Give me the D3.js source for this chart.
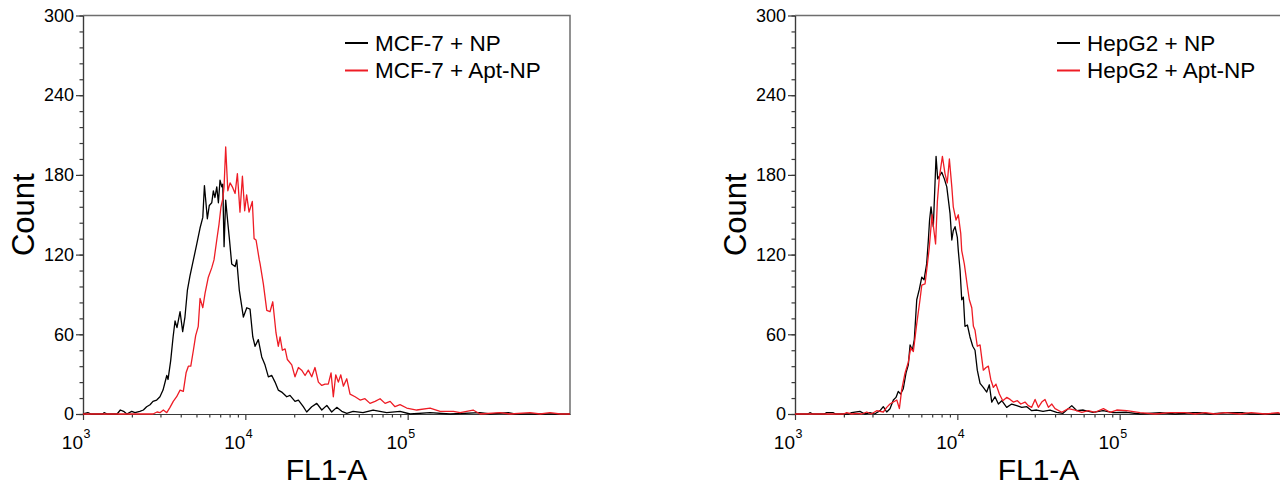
<!DOCTYPE html>
<html>
<head>
<meta charset="utf-8">
<title>FL1-A histograms</title>
<script src="https://cdn.jsdelivr.net/npm/d3@7"></script>
<style>
  body { margin: 0; background: #fff; }
  svg { display: block; font-family: "Liberation Sans", Arial, sans-serif; }
  .tick text { font-size: 18px; fill: #000; }
</style>
</head>
<body>
<script>
// each point: [log10(FL1-A), count]
const mcfNP = [[3.00,0],[3.03,1],[3.05,0],[3.12,0],[3.13,1],[3.15,0],[3.21,0],[3.23,3],[3.25,2],[3.27,0],
  [3.30,2],[3.32,1],[3.35,2],[3.372,3],[3.392,5.5],[3.413,7],[3.431,9.5],[3.454,10.5],[3.474,13],[3.493,18],
  [3.516,29],[3.524,26],[3.540,40],[3.555,58],[3.567,70],[3.579,65],[3.598,77],[3.614,62],[3.628,73],[3.643,93],
  [3.659,104],[3.680,116],[3.701,128],[3.721,140],[3.738,148],[3.748,172],[3.766,147],[3.778,157],[3.793,159],
  [3.803,168],[3.813,163],[3.824,171],[3.834,159],[3.844,176],[3.855,171],[3.861,173],[3.869,126],[3.879,161],
  [3.892,144],[3.901,133],[3.916,113],[3.937,111],[3.947,116],[3.963,93],[3.988,73],[4.009,80],[4.029,79],
  [4.046,58],[4.060,51],[4.080,56],[4.101,43],[4.121,37],[4.142,28],[4.163,29],[4.183,24],[4.203,18],[4.224,16.5],
  [4.255,13],[4.275,14],[4.306,9.5],[4.327,10.5],[4.357,5.5],[4.378,1.5],[4.409,5.5],[4.440,8],[4.471,3],
  [4.502,6.5],[4.532,1.5],[4.563,5],[4.594,2],[4.625,0.5],[4.664,2],[4.725,1],[4.787,3],[4.871,1],[4.953,2],
  [5.015,0],[5.138,1],[5.261,0],[5.446,1],[5.508,0],[5.62,1],[5.66,0],[6.00,0]];

const mcfApt = [[3.00,0],[3.431,0],[3.456,1.5],[3.474,1],[3.495,3],[3.516,1],[3.536,5],[3.556,9.5],[3.577,13],
  [3.598,18],[3.618,17],[3.635,31],[3.649,36],[3.664,36],[3.680,48],[3.694,59],[3.710,66],[3.721,87],[3.738,80],
  [3.752,91],[3.772,103],[3.793,110],[3.807,116],[3.824,131],[3.838,143],[3.850,156],[3.861,162],[3.869,171],
  [3.879,201],[3.892,168],[3.906,174],[3.920,171],[3.937,166],[3.951,181],[3.967,152],[3.982,179],[3.996,153],
  [4.008,165],[4.023,152],[4.043,160],[4.054,132],[4.066,131],[4.086,116],[4.091,113],[4.111,98],[4.132,78],
  [4.152,77],[4.169,84.5],[4.189,61],[4.203,51],[4.214,58],[4.228,48],[4.245,49],[4.259,41],[4.286,37],[4.306,28],
  [4.327,35],[4.347,33],[4.368,29],[4.388,33],[4.409,28],[4.429,35],[4.450,24],[4.471,21.5],[4.491,22.5],
  [4.511,22.5],[4.528,31],[4.542,13],[4.557,29.5],[4.573,24],[4.588,29.5],[4.604,21],[4.625,26.5],[4.645,15],
  [4.676,13],[4.707,10.5],[4.737,11.5],[4.768,8],[4.799,9.5],[4.830,11.5],[4.861,8],[4.892,9.5],[4.922,5.5],
  [4.953,7],[4.994,4.5],[5.056,3],[5.138,4.5],[5.200,2],[5.282,2],[5.323,1],[5.403,3],[5.446,0],[5.569,1],
  [5.631,0],[5.754,1],[5.816,0],[5.877,1],[5.939,0],[6.00,0]];

const hepNP = [[3.00,0],[3.08,0],[3.092,1],[3.11,0],[3.18,0],[3.195,1],[3.234,1],[3.25,0],[3.33,0],[3.349,1],
  [3.400,2],[3.43,0],[3.462,1],[3.49,0],[3.524,2.5],[3.544,5.5],[3.565,1.5],[3.585,4],[3.606,10.5],[3.622,12.5],
  [3.636,17],[3.651,15],[3.667,19],[3.684,31],[3.698,37],[3.709,52],[3.723,48],[3.735,56],[3.750,86],[3.766,94],
  [3.781,103],[3.795,101],[3.811,113],[3.821,130],[3.829,146],[3.838,156],[3.852,141],[3.869,194],[3.879,177],
  [3.904,182],[3.920,177],[3.935,171],[3.945,161],[3.955,151],[3.966,131],[3.975,138],[3.986,141],[4.000,133],
  [4.006,123],[4.017,108],[4.027,86],[4.037,88],[4.047,66],[4.062,67],[4.078,58],[4.095,51],[4.109,48],[4.123,33],
  [4.140,23],[4.160,20],[4.181,16.5],[4.197,22],[4.212,9],[4.232,13],[4.253,7.5],[4.274,10],[4.304,5],[4.335,7.5],
  [4.366,6.3],[4.397,5],[4.428,5.5],[4.458,2.5],[4.489,3],[4.528,2],[4.571,3],[4.612,1.3],[4.651,0.5],[4.705,6.3],
  [4.736,2.5],[4.776,3],[4.836,1.3],[4.898,2.5],[4.959,1],[5.044,1.3],[5.126,0],[5.249,1],[5.342,0],[5.452,1],
  [5.495,1],[5.557,0],[5.662,1],[5.699,1],[5.754,1],[5.804,0],[6.00,0]];

const hepApt = [[3.00,0],[3.30,0],[3.318,1],[3.35,0],[3.380,0.5],[3.41,0],[3.442,1.5],[3.47,0],[3.503,2.5],
  [3.544,1.5],[3.565,5],[3.585,7.5],[3.606,9],[3.627,10.5],[3.643,4],[3.657,18],[3.678,31],[3.698,39],[3.713,50],
  [3.729,47],[3.750,68],[3.770,86],[3.781,97],[3.801,98],[3.811,108],[3.827,125],[3.844,150],[3.866,128],
  [3.877,160],[3.889,178],[3.908,194],[3.924,181],[3.938,174],[3.951,192],[3.966,171],[3.975,156],[3.992,146],
  [4.006,150],[4.021,136],[4.027,123],[4.043,113],[4.062,96],[4.074,86],[4.089,80],[4.099,66],[4.109,63],
  [4.123,51],[4.140,52],[4.160,33],[4.177,35],[4.191,36],[4.206,26],[4.222,20],[4.238,22.5],[4.259,15],[4.280,10],
  [4.304,12.5],[4.325,11],[4.345,9],[4.370,10],[4.391,7.5],[4.417,9],[4.437,6.3],[4.458,5],[4.479,11],[4.499,5],
  [4.520,9],[4.540,11],[4.561,5],[4.582,7.5],[4.602,4],[4.643,1.3],[4.684,4],[4.725,3],[4.767,1.3],[4.807,2.5],
  [4.848,1.3],[4.900,4],[4.941,1.3],[4.982,3],[5.044,2.5],[5.126,1],[5.218,0],[5.311,1],[5.403,1],[5.465,0],
  [5.526,1],[5.588,0],[5.650,1],[5.742,0],[5.810,1],[5.896,0],[5.976,1],[6.00,0]];

const legendLeft = ["MCF-7 + NP", "MCF-7 + Apt-NP"];
const legendRight = ["HepG2 + NP", "HepG2 + Apt-NP"];
const colors = ["#000000", "#ee1c25"];
const yMajor = [0, 60, 120, 180, 240, 300];
const yMinor = d3.range(0, 301, 12);
const xExponents = [3, 4, 5];
const xMinor = [2, 3, 4, 5, 6, 7, 8, 9].flatMap(m => [m * 1e3, m * 1e4]);

const width = 1280, height = 488;
const plotW = 487, plotTop = 15.5, plotBottom = 414;

const svg = d3.select('body').append('svg')
  .attr('width', width)
  .attr('height', height);

const y = d3.scaleLinear().domain([0, 300]).range([plotBottom, plotTop]);
const x = d3.scaleLog().domain([1e3, 1e6]).range([0, plotW]);

const panels = [
  { left: 83, series: [mcfNP, mcfApt], names: legendLeft },
  { left: 795, series: [hepNP, hepApt], names: legendRight }
];

const line = d3.line()
  .x(d => x(Math.pow(10, d[0])))
  .y(d => y(d[1]));

panels.forEach(p => {
  const g = svg.append('g').attr('transform', `translate(${p.left},0)`);

  // top / right frame
  g.append('path')
    .attr('d', `M0,${plotTop}H${plotW}V${plotBottom}`)
    .attr('fill', 'none')
    .attr('stroke', '#6e6e6e')
    .attr('stroke-width', 1.5);

  // y axis
  g.append('g')
    .call(d3.axisLeft(y).tickValues(yMinor).tickSize(3.5).tickSizeOuter(0).tickFormat(''));
  g.append('g')
    .call(d3.axisLeft(y).tickValues(yMajor).tickSize(7).tickSizeOuter(0).tickPadding(2));

  // x axis
  const xg = g.append('g').attr('transform', `translate(0,${plotBottom})`);
  xg.append('g')
    .call(d3.axisBottom(x).tickValues(xMinor).tickSize(3.5).tickSizeOuter(0).tickFormat(''));
  xg.append('g')
    .call(d3.axisBottom(x).tickValues(xExponents.map(e => Math.pow(10, e))).tickSize(6).tickSizeOuter(0).tickFormat(''));

  g.selectAll('.domain, .tick line').attr('stroke', '#3a3a3a').attr('stroke-width', 1.2);

  xExponents.forEach(e => {
    const tx = x(Math.pow(10, e));
    g.append('text')
      .attr('x', tx).attr('y', plotBottom + 35)
      .attr('text-anchor', 'end')
      .attr('font-size', 19)
      .text('10');
    g.append('text')
      .attr('x', tx + 0.5).attr('y', plotBottom + 24)
      .attr('font-size', 12.5)
      .text(e);
  });

  // histograms
  p.series.forEach((s, i) => {
    g.append('path')
      .datum(s)
      .attr('fill', 'none')
      .attr('stroke', colors[i])
      .attr('stroke-width', 1.3)
      .attr('stroke-linejoin', 'round')
      .attr('d', line);
  });

  // legend
  p.names.forEach((name, i) => {
    g.append('line')
      .attr('x1', 262).attr('x2', 285)
      .attr('y1', 43 + 27.5 * i).attr('y2', 43 + 27.5 * i)
      .attr('stroke', colors[i])
      .attr('stroke-width', 2);
    g.append('text')
      .attr('x', 292).attr('y', 50.7 + 27.5 * i)
      .attr('font-size', 22.5)
      .text(name);
  });

  // axis titles
  g.append('text')
    .attr('transform', `translate(-49,${(plotTop + plotBottom) / 2}) rotate(-90)`)
    .attr('text-anchor', 'middle')
    .attr('font-size', 31)
    .text('Count');
  g.append('text')
    .attr('x', plotW / 2).attr('y', 480)
    .attr('text-anchor', 'middle')
    .attr('font-size', 30)
    .text('FL1-A');
});
</script>
</body>
</html>
